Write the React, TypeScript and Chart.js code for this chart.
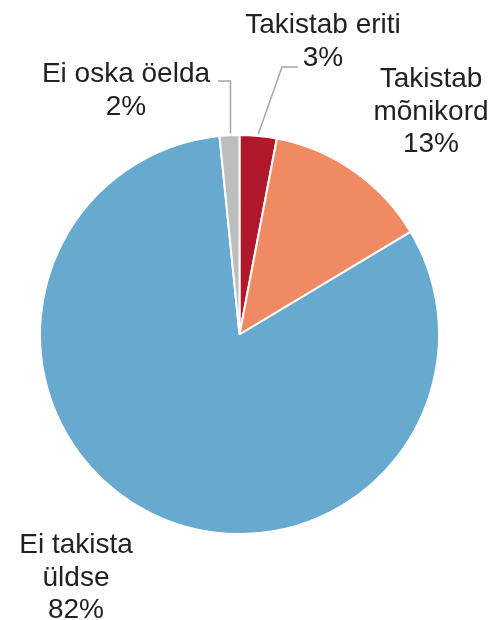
import React, { useEffect, useRef } from "react";
import { Chart, registerables } from "chart.js";

Chart.register(...registerables);

const categories = ["Takistab eriti", "Takistab mõnikord", "Ei takista üldse", "Ei oska öelda"];
const labelLines = [["Takistab eriti", "3%"], ["Takistab", "mõnikord", "13%"], ["Ei takista", "üldse", "82%"], ["Ei oska öelda", "2%"]];
const values = [3, 13.4, 82, 1.6];
const colors = ["#B2182B", "#EF8A62", "#67A9CF", "#BDBDBD"];

// label layout: text centre x, first baseline y, optional leader line (elbow + end)
const labelLayout = [
  { x: 323, y: 33, leader: [[282, 67], [298, 67]] },
  { x: 431, y: 87, leader: null },
  { x: 76, y: 553, leader: null },
  { x: 126, y: 82, leader: "vertical", elbowY: 81, endX: 218 },
];

const labelPlugin = {
  id: "pieLabels",
  afterDatasetsDraw(chart: any) {
    const ctx = chart.ctx;
    const meta = chart.getDatasetMeta(0);
    ctx.save();
    meta.data.forEach((arc: any, i: number) => {
      const lay: any = labelLayout[i];
      const mid = (arc.startAngle + arc.endAngle) / 2;
      const ex = arc.x + Math.cos(mid) * arc.outerRadius;
      const ey = arc.y + Math.sin(mid) * arc.outerRadius;
      ctx.strokeStyle = "#A6A6A6";
      ctx.lineWidth = 1.5;
      if (Array.isArray(lay.leader)) {
        ctx.beginPath();
        ctx.moveTo(ex, ey - 2);
        lay.leader.forEach((p: number[]) => ctx.lineTo(p[0], p[1]));
        ctx.stroke();
      } else if (lay.leader === "vertical") {
        ctx.beginPath();
        ctx.moveTo(ex + 1, ey - 2);
        ctx.lineTo(ex + 1, lay.elbowY);
        ctx.lineTo(lay.endX, lay.elbowY);
        ctx.stroke();
      }
      ctx.fillStyle = "#222222";
      ctx.font = '28px "Liberation Sans", Arial, sans-serif';
      ctx.textAlign = "center";
      ctx.textBaseline = "alphabetic";
      labelLines[i].forEach((t, j) => {
        ctx.fillText(t, lay.x, lay.y + j * 32.5);
      });
    });
    ctx.restore();
  },
};

export default function App() {
  const ref = useRef<HTMLCanvasElement>(null);
  useEffect(() => {
    if (!ref.current) return;
    const chart = new Chart(ref.current, {
      type: "pie",
      data: {
        labels: categories,
        datasets: [
          {
            data: values,
            backgroundColor: colors,
            borderColor: "#FFFFFF",
            borderWidth: 2,
          },
        ],
      },
      options: {
        responsive: false,
        animation: false,
        layout: { padding: { left: 39, right: 52, top: 134, bottom: 85 } },
        plugins: {
          legend: { display: false },
          tooltip: { enabled: false },
        },
      },
      plugins: [labelPlugin],
    });
    return () => chart.destroy();
  }, []);
  return (
    <div style={{ position: "absolute", left: 0, top: 0, width: 492, height: 620, background: "#fff" }}>
      <canvas ref={ref} width={492} height={620} style={{ display: "block" }} />
    </div>
  );
}
